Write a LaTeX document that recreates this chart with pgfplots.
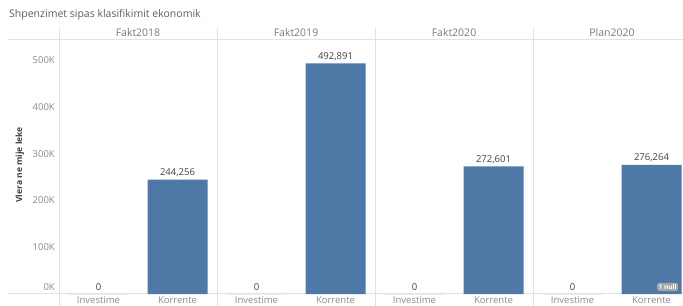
\documentclass[border=0pt]{standalone}
\usepackage{pgfplots}
\pgfplotsset{compat=1.18}
\usepackage{fontspec}
\setmainfont{Open Sans}
\definecolor{barblue}{HTML}{4E79A7}
\definecolor{sepgray}{HTML}{E2E2E2}
\definecolor{ticktext}{HTML}{8A8A8A}
\definecolor{hdrtext}{HTML}{7A7A7A}
\definecolor{valtext}{HTML}{404040}
\begin{document}
\begin{tikzpicture}
\useasboundingbox (0,0) rectangle (683bp,306bp);
\begin{scope}
\clip (0,0) rectangle (683bp,306bp);
% separators
\draw[sepgray, line width=0.8bp] (8bp,267bp) -- (700bp,267bp);
\draw[sepgray, line width=0.8bp] (8bp,12.5bp) -- (700bp,12.5bp);
\foreach \x in {59,217,375,533}{
  \draw[sepgray, line width=0.8bp] (\x bp,278bp) -- (\x bp,0bp);
}
% title
\node[anchor=west, inner sep=0pt, font=\fontsize{10.5bp}{12bp}\selectfont, text=valtext!85] at (9bp,291bp) {Shpenzimet sipas klasifikimit ekonomik};
% headers
\foreach \x/\t in {138/Fakt2018,296/Fakt2019,454/Fakt2020,612/Plan2020}{
  \node[inner sep=0pt, font=\fontsize{10.5bp}{12bp}\selectfont, text=hdrtext] at (\x bp,273bp) {\t};
}
% y label
\node[rotate=90, inner sep=0pt, font=\bfseries\fontsize{8.5bp}{10bp}\selectfont, text=valtext] at (20bp,141bp) {Vlera ne mije leke};
\begin{axis}[
  at={(59bp,12bp)}, anchor=south west,
  scale only axis, width=632bp, height=254bp,
  xmin=-0.5, xmax=7.5, ymin=0, ymax=543000,
  axis line style={draw=none},
  clip=false,
  ybar, bar width=60bp,
  xtick={0,...,7},
  xticklabels={Investime,Korrente,Investime,Korrente,Investime,Korrente,Investime,Korrente},
  xticklabel style={font=\fontsize{9.5bp}{11bp}\selectfont, text=ticktext, inner sep=0pt, anchor=north, yshift=-2.5bp},
  ytick={100000,200000,300000,400000,500000},
  yticklabels={100K,200K,300K,400K,500K},
  extra y ticks={0}, extra y tick labels={0K},
  extra y tick style={yticklabel style={yshift=7bp}},
  yticklabel style={font=\fontsize{9.5bp}{11bp}\selectfont, text=ticktext, inner sep=0pt, anchor=east, xshift=-4bp},
  major tick length=0pt,
  scaled y ticks=false,
  /pgf/number format/.cd, fixed, precision=0, 1000 sep={,}, assume math mode=true,
  /pgfplots/.cd,
  nodes near coords,
  nodes near coords style={font=\fontsize{9.5bp}{11bp}\selectfont, text=valtext, inner sep=0pt, anchor=south, yshift=3bp},
]
\addplot[fill=barblue, draw=none] coordinates {
  (0,0) (1,244256) (2,0) (3,492891) (4,0) (5,272601) (6,0) (7,276264)
};
\end{axis}
\node[fill=black!35, text=white, rounded corners=1.5bp, inner sep=1.5bp, font=\bfseries\fontsize{6.5bp}{7bp}\selectfont, anchor=west] at (657bp,19bp) {1 null};
\end{scope}
\end{tikzpicture}
\end{document}
